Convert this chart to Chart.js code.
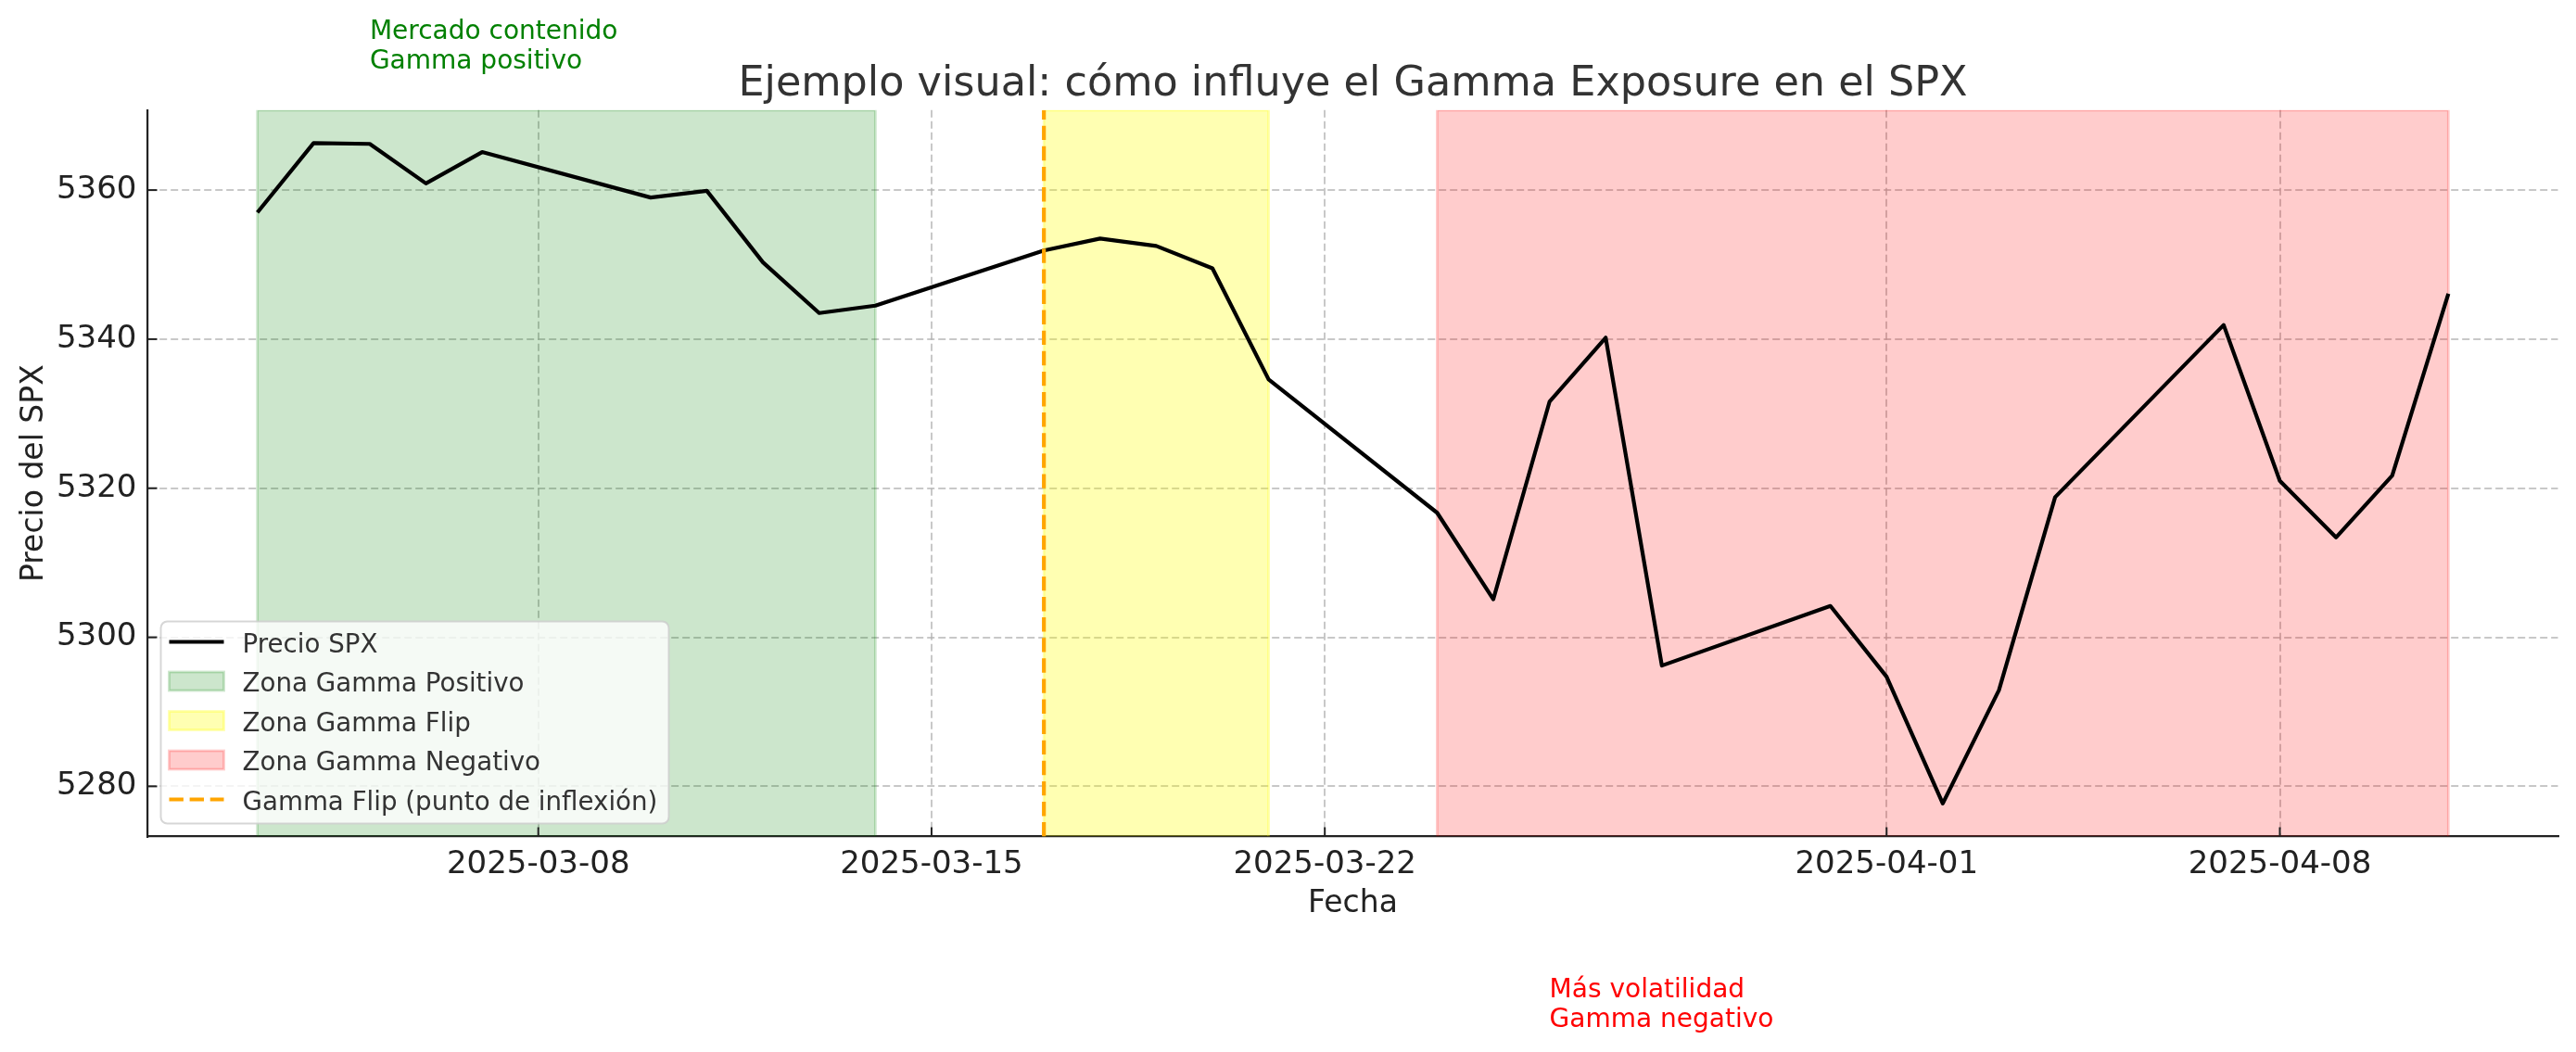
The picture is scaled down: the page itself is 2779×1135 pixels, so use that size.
<!DOCTYPE html>
<html><head><meta charset="utf-8">
<script src="https://cdn.jsdelivr.net/npm/chart.js@4.4.1/dist/chart.umd.min.js"></script>
<style>html,body{margin:0;padding:0;background:#fff;}canvas{display:block;}</style>
</head><body>
<canvas id="c" width="2779" height="1135"></canvas>
<script>
// ---------- DATA ----------
const dates = ['2025-03-03','2025-03-04','2025-03-05','2025-03-06','2025-03-07',
  '2025-03-10','2025-03-11','2025-03-12','2025-03-13','2025-03-14',
  '2025-03-17','2025-03-18','2025-03-19','2025-03-20','2025-03-21',
  '2025-03-24','2025-03-25','2025-03-26','2025-03-27','2025-03-28',
  '2025-03-31','2025-04-01','2025-04-02','2025-04-03','2025-04-04',
  '2025-04-07','2025-04-08','2025-04-09','2025-04-10','2025-04-11'];
const prices = [5357.0,5366.3,5366.2,5360.9,5365.1,
  5359.0,5359.9,5350.3,5343.5,5344.5,
  5351.9,5353.5,5352.5,5349.5,5334.6,
  5316.7,5305.1,5331.6,5340.2,5296.2,
  5304.2,5294.7,5277.7,5292.9,5318.8,
  5341.9,5321.0,5313.4,5321.7,5346.1];
const xTickLabels = ['2025-03-08','2025-03-15','2025-03-22','2025-04-01','2025-04-08'];
const yTicks = [5280,5300,5320,5340,5360];
const zoneNames = ['Zona Gamma Positivo','Zona Gamma Flip','Zona Gamma Negativo'];
const zoneStarts = ['2025-03-03','2025-03-17','2025-03-24'];
const zoneEnds = ['2025-03-14','2025-03-21','2025-04-11'];
const zoneRGB = ['0,128,0','255,255,0','255,0,0'];
const zoneAlpha = [0.2,0.3,0.2];
const flipDate = '2025-03-17';
const flipLabel = 'Gamma Flip (punto de inflexión)';
const priceLabel = 'Precio SPX';
const noteTexts = [['Mercado contenido','Gamma positivo'],['Más volatilidad','Gamma negativo']];
const noteDates = ['2025-03-05','2025-03-26'];
const noteValues = [5376.3, 5247.7];
const noteColors = ['#008000','#ff0000'];
const titleText = 'Ejemplo visual: cómo influye el Gamma Exposure en el SPX';
const xTitle = 'Fecha';
const yTitle = 'Precio del SPX';

// ---------- helpers ----------
const FONT = "'DejaVu Sans', sans-serif";
const base = Date.UTC(2025,2,1);
function dayNum(s){const p=s.split('-');return (Date.UTC(+p[0],+p[1]-1,+p[2])-base)/86400000;}
const xs = dates.map(dayNum);
const xspan = xs[xs.length-1]-xs[0];
const xMin = xs[0]-0.05*xspan, xMax = xs[xs.length-1]+0.05*xspan;
const pMin = Math.min(...prices), pMax = Math.max(...prices), pr = pMax-pMin;
const yMin = pMin-0.05*pr, yMax = pMax+0.05*pr;
const rgba = (i,a)=>`rgba(${zoneRGB[i]},${a})`;

const zoneSets = zoneNames.map((n,i)=>{
  const s=dayNum(zoneStarts[i]), e=dayNum(zoneEnds[i]);
  return {label:n, data:[{x:s,y:yMin},{x:s,y:yMax},{x:e,y:yMax},{x:e,y:yMin}],
    fill:'start', backgroundColor:rgba(i,zoneAlpha[i]), borderColor:rgba(i,zoneAlpha[i]),
    borderWidth:2.8, pointRadius:0, tension:0, order:3};
});
const fx = dayNum(flipDate);

const extras = {
  id:'extras',
  afterDraw(chart){
    const ctx = chart.ctx, a = chart.chartArea, sx = chart.scales.x, sy = chart.scales.y;
    ctx.save();
    // inward ticks
    ctx.strokeStyle='#222'; ctx.lineWidth=2;
    sx.ticks.forEach(t=>{const p=sx.getPixelForValue(t.value);ctx.beginPath();ctx.moveTo(p,a.bottom);ctx.lineTo(p,a.bottom-10);ctx.stroke();});
    sy.ticks.forEach(t=>{const p=sy.getPixelForValue(t.value);ctx.beginPath();ctx.moveTo(a.left,p);ctx.lineTo(a.left+10,p);ctx.stroke();});
    // title
    const cx=(a.left+a.right)/2, cy=(a.top+a.bottom)/2;
    ctx.fillStyle='#333'; ctx.font='44.5px '+FONT; ctx.textAlign='center'; ctx.textBaseline='alphabetic';
    ctx.fillText(titleText, cx, a.top-16);
    // axis titles
    ctx.fillStyle='#222'; ctx.font='33px '+FONT;
    ctx.fillText(xTitle, cx, a.bottom+81);
    ctx.save(); ctx.translate(46, cy); ctx.rotate(-Math.PI/2); ctx.fillText(yTitle,0,0); ctx.restore();
    // notes
    ctx.font='28px '+FONT; ctx.textAlign='left';
    noteTexts.forEach((lines,i)=>{
      const px=sx.getPixelForValue(dayNum(noteDates[i])), py=sy.getPixelForValue(noteValues[i]);
      ctx.fillStyle=noteColors[i];
      for(let k=lines.length-1;k>=0;k--) ctx.fillText(lines[k], px, py-(lines.length-1-k)*32);
    });
    // legend
    const lx=a.left+14, lw=548, lh=218, ly=a.bottom-14-lh;
    ctx.beginPath(); ctx.roundRect(lx,ly,lw,lh,7);
    ctx.fillStyle='rgba(255,255,255,0.8)'; ctx.fill();
    ctx.strokeStyle='rgba(204,204,204,0.8)'; ctx.lineWidth=2; ctx.stroke();
    const hx=lx+9, hw=59, tx=lx+88;
    const rows=[priceLabel,...zoneNames,flipLabel];
    rows.forEach((r,k)=>{
      const ry=ly+22+k*42.5;
      if(k===0){ctx.strokeStyle='#000';ctx.lineWidth=4.2;ctx.setLineDash([]);ctx.beginPath();ctx.moveTo(hx,ry);ctx.lineTo(hx+hw,ry);ctx.stroke();}
      else if(k<=3){const i=k-1;ctx.fillStyle=rgba(i,zoneAlpha[i]);ctx.fillRect(hx,ry-10,hw,20);ctx.strokeStyle=rgba(i,zoneAlpha[i]);ctx.lineWidth=2.8;ctx.strokeRect(hx,ry-10,hw,20);}
      else {ctx.strokeStyle='#FFA500';ctx.lineWidth=4.2;ctx.setLineDash([15.4,6.7]);ctx.beginPath();ctx.moveTo(hx,ry);ctx.lineTo(hx+hw,ry);ctx.stroke();ctx.setLineDash([]);}
      ctx.fillStyle='#333'; ctx.font='27.7px '+FONT; ctx.textAlign='left'; ctx.textBaseline='alphabetic';
      ctx.fillText(r, tx, ry+11);
    });
    ctx.restore();
  }
};

new Chart(document.getElementById('c'), {
  type:'line',
  data:{datasets:[...zoneSets,
    {label:priceLabel, data:xs.map((x,i)=>({x, y:prices[i]})), borderColor:'#000', borderWidth:4.2,
      pointRadius:0, tension:0, fill:false, borderJoinStyle:'round', order:2},
    {label:flipLabel, data:[{x:fx,y:yMin},{x:fx,y:yMax}], borderColor:'#FFA500', borderWidth:4.2,
      borderDash:[15.4,6.7], pointRadius:0, fill:false, order:1}
  ]},
  options:{
    responsive:false, animation:false, devicePixelRatio:1,
    layout:{padding:{top:118.8, right:19.5, left:0, bottom:0}},
    plugins:{legend:{display:false}, title:{display:false}, tooltip:{enabled:false}},
    scales:{
      x:{type:'linear', min:xMin, max:xMax,
        afterBuildTicks:s=>{s.ticks=xTickLabels.map(d=>({value:dayNum(d)}));},
        afterFit:s=>{s.height=232.5;},
        ticks:{autoSkip:false, maxRotation:0, padding:10, color:'#222', font:{family:FONT,size:34},
          callback:(v,i)=>xTickLabels[i]},
        grid:{color:'rgba(176,176,176,0.7)', lineWidth:2, drawTicks:false},
        border:{display:true, color:'#222', width:2.2, dash:[8,4]}},
      y:{type:'linear', min:yMin, max:yMax,
        afterBuildTicks:s=>{s.ticks=yTicks.map(v=>({value:v}));},
        afterFit:s=>{s.width=159.5;},
        ticks:{padding:12, color:'#222', font:{family:FONT,size:34}, callback:v=>String(v)},
        grid:{color:'rgba(176,176,176,0.7)', lineWidth:2, drawTicks:false},
        border:{display:true, color:'#222', width:2.2, dash:[8,4]}}
    }
  },
  plugins:[extras]
});
</script>
</body></html>
